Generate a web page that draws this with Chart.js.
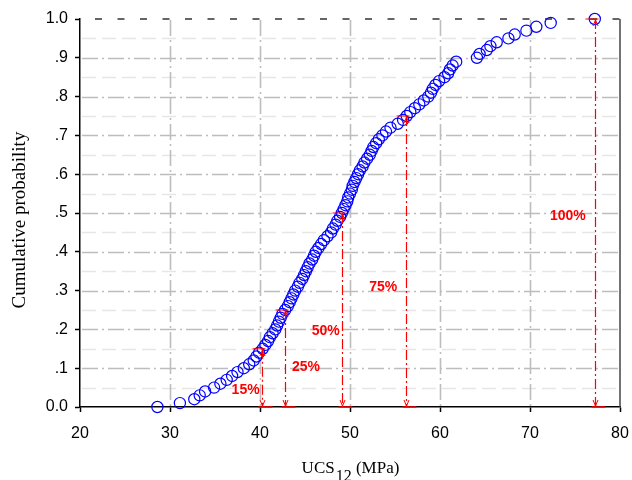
<!DOCTYPE html>
<html>
<head>
<meta charset="utf-8">
<title>UCS12 cumulative probability</title>
<script src="https://cdn.jsdelivr.net/npm/chart.js@4/dist/chart.umd.min.js"></script>
<style>
  html, body { margin: 0; padding: 0; background: #ffffff; }
  #wrap { width: 632px; height: 480px; }
</style>
</head>
<body>
<div id="wrap"><canvas id="cdf" width="632" height="480"></canvas></div>
<script>
// Cumulative probability of each ranked sample
const probability = [
  0.00, 0.01, 0.02, 0.03, 0.04, 0.05, 0.06, 0.07, 0.08, 0.09,
  0.10, 0.11, 0.12, 0.13, 0.14, 0.15, 0.16, 0.17, 0.18, 0.19,
  0.20, 0.21, 0.22, 0.23, 0.24, 0.25, 0.26, 0.27, 0.28, 0.29,
  0.30, 0.31, 0.32, 0.33, 0.34, 0.35, 0.36, 0.37, 0.38, 0.39,
  0.40, 0.41, 0.42, 0.43, 0.44, 0.45, 0.46, 0.47, 0.48, 0.49,
  0.50, 0.51, 0.52, 0.53, 0.54, 0.55, 0.56, 0.57, 0.58, 0.59,
  0.60, 0.61, 0.62, 0.63, 0.64, 0.65, 0.66, 0.67, 0.68, 0.69,
  0.70, 0.71, 0.72, 0.73, 0.74, 0.75, 0.76, 0.77, 0.78, 0.79,
  0.80, 0.81, 0.82, 0.83, 0.84, 0.85, 0.86, 0.87, 0.88, 0.89,
  0.90, 0.91, 0.92, 0.93, 0.94, 0.95, 0.96, 0.97, 0.98, 0.99,
  1.00
];

// UCS12 of each ranked sample (MPa)
const ucs12 = [
  28.6, 31.1, 32.7, 33.3, 33.9, 34.9, 35.6, 36.3, 36.9, 37.5,
  38.2, 38.8, 39.3, 39.6, 39.9, 40.3, 40.6, 40.9, 41.1, 41.4,
  41.7, 41.9, 42.1, 42.3, 42.5, 42.8, 43.1, 43.3, 43.5, 43.7,
  43.9, 44.2, 44.4, 44.7, 44.9, 45.1, 45.3, 45.5, 45.8, 46.0,
  46.2, 46.5, 46.8, 47.1, 47.5, 47.9, 48.1, 48.4, 48.6, 48.9,
  49.1, 49.3, 49.5, 49.7, 49.8, 50.0, 50.2, 50.3, 50.5, 50.7,
  50.9, 51.1, 51.4, 51.6, 51.9, 52.2, 52.4, 52.6, 52.9, 53.2,
  53.6, 54.0, 54.5, 55.3, 55.9, 56.3, 56.7, 57.2, 57.7, 58.2,
  58.7, 59.0, 59.2, 59.5, 59.9, 60.5, 60.9, 61.1, 61.4, 61.8,
  64.1, 64.4, 65.2, 65.6, 66.3, 67.6, 68.3, 69.6, 70.7, 72.3,
  77.2
];

// Marked percentiles
const percentileLabels = ['15%', '25%', '50%', '75%', '100%'];
const percentileProb   = [0.15, 0.25, 0.50, 0.75, 1.00];
const percentileUcs    = [40.2, 42.8, 49.1, 56.2, 77.2];
// where each percentile label sits, in axis units [x, y]
const percentileLabelAt = [[38.4, 0.044], [45.1, 0.103], [47.3, 0.196], [53.7, 0.31], [74.2, 0.492]];

// Axis ranges and ticks
const xMin = 20, xMax = 80, xStep = 10;
const yMin = 0, yMax = 1, yStep = 0.1;
const yMinorTicks = [0.05, 0.15, 0.25, 0.35, 0.45, 0.55, 0.65, 0.75, 0.85, 0.95];

const SANS = '"Liberation Sans", Arial, sans-serif';
const SERIF = '"Liberation Serif", "Times New Roman", serif';

function yTickText(v) {
  if (Math.abs(v) < 1e-9) return '0.0';
  if (Math.abs(v - 1) < 1e-9) return '1.0';
  return '.' + Math.round(v * 10);
}

// dash-dot grid, frame dashes on the top edge, solid right edge
const gridPlugin = {
  id: 'cdfGrid',
  beforeDatasetsDraw(chart) {
    const { ctx, chartArea: a, scales: { x, y } } = chart;
    ctx.save();
    ctx.lineCap = 'butt';
    // minor horizontal lines
    ctx.strokeStyle = '#e6e6e6';
    ctx.lineWidth = 1.5;
    ctx.setLineDash([14, 6]);
    yMinorTicks.forEach(v => {
      const py = Math.round(y.getPixelForValue(v)) + 0.5;
      ctx.beginPath(); ctx.moveTo(a.left + 2, py); ctx.lineTo(a.right - 1, py); ctx.stroke();
    });
    // major horizontal lines
    ctx.strokeStyle = '#bdbdbd';
    ctx.lineWidth = 1.6;
    ctx.setLineDash([16, 4, 2, 4]);
    for (let v = yMin + yStep; v < yMax - 1e-9; v += yStep) {
      const py = Math.round(y.getPixelForValue(v)) + 0.5;
      ctx.beginPath(); ctx.moveTo(a.left + 2, py); ctx.lineTo(a.right - 1, py); ctx.stroke();
    }
    // major vertical lines
    for (let v = xMin + xStep; v < xMax - 1e-9; v += xStep) {
      const px = Math.round(x.getPixelForValue(v)) + 0.5;
      ctx.beginPath(); ctx.moveTo(px, a.top + 1); ctx.lineTo(px, a.bottom - 1); ctx.stroke();
    }
    // top edge: short dark dashes
    ctx.strokeStyle = '#333333';
    ctx.lineWidth = 1.5;
    ctx.setLineDash([7, 15.5]);
    ctx.lineDashOffset = 7.5;
    ctx.beginPath(); ctx.moveTo(a.left, a.top); ctx.lineTo(a.right, a.top); ctx.stroke();
    // right edge
    ctx.setLineDash([]);
    ctx.lineDashOffset = 0;
    ctx.strokeStyle = '#444444';
    ctx.lineWidth = 1.5;
    ctx.beginPath(); ctx.moveTo(a.right, a.top); ctx.lineTo(a.right, a.bottom); ctx.stroke();
    ctx.restore();
  }
};

// red percentile drop lines with arrows and labels
const percentilePlugin = {
  id: 'percentiles',
  afterDatasetsDraw(chart) {
    const { ctx, scales: { x, y } } = chart;
    ctx.save();
    ctx.strokeStyle = 'rgb(255,0,0)';
    ctx.fillStyle = 'rgb(255,0,0)';
    const base = y.getPixelForValue(0);
    percentileProb.forEach((p, i) => {
      const px = Math.round(x.getPixelForValue(percentileUcs[i])) + 0.5;
      const top = y.getPixelForValue(p);
      // dash-dot drop line
      ctx.lineWidth = 1.2;
      ctx.setLineDash([10, 3, 2, 3]);
      ctx.beginPath(); ctx.moveTo(px, top); ctx.lineTo(px, base); ctx.stroke();
      ctx.setLineDash([]);
      ctx.lineWidth = 1;
      // top cap and upward arrowhead
      ctx.beginPath(); ctx.moveTo(px - 10, top); ctx.lineTo(px + 3, top); ctx.stroke();
      ctx.beginPath();
      ctx.moveTo(px - 2.5, top + 7); ctx.lineTo(px, top + 1); ctx.lineTo(px + 2.5, top + 7);
      ctx.stroke();
      // downward arrowhead and base tick on the axis
      ctx.beginPath();
      ctx.moveTo(px - 2.5, base - 7); ctx.lineTo(px, base - 1); ctx.lineTo(px + 2.5, base - 7);
      ctx.stroke();
      ctx.lineWidth = 1.5;
      ctx.beginPath(); ctx.moveTo(px - 4, base); ctx.lineTo(px + 10, base); ctx.stroke();
      // label
      const at = percentileLabelAt[i];
      ctx.font = 'bold 14px ' + SANS;
      ctx.textAlign = 'center';
      ctx.textBaseline = 'middle';
      ctx.fillText(percentileLabels[i], x.getPixelForValue(at[0]), y.getPixelForValue(at[1]));
    });
    ctx.restore();
  }
};

// axis titles (x title carries a subscript)
const titlePlugin = {
  id: 'axisTitles',
  afterDraw(chart) {
    const { ctx, chartArea: a } = chart;
    ctx.save();
    ctx.fillStyle = '#000000';
    ctx.textBaseline = 'alphabetic';
    // x title
    const main = '17px ' + SERIF, sub = '16px ' + SERIF;
    ctx.font = main; const w1 = ctx.measureText('UCS').width;
    ctx.font = sub;  const w2 = ctx.measureText('12').width;
    ctx.font = main; const w3 = ctx.measureText(' (MPa)').width;
    let sx = (a.left + a.right) / 2 - (w1 + w2 + w3) / 2;
    ctx.textAlign = 'left';
    ctx.font = main; ctx.fillText('UCS', sx, 473);
    ctx.font = sub;  ctx.fillText('12', sx + w1 + 1, 481);
    ctx.font = main; ctx.fillText(' (MPa)', sx + w1 + w2 + 1, 473);
    // y title
    ctx.translate(25, (a.top + a.bottom) / 2 + 7);
    ctx.rotate(-Math.PI / 2);
    ctx.textAlign = 'center';
    ctx.font = '19px ' + SERIF;
    ctx.fillText('Cumulative probability', 0, 0);
    ctx.restore();
  }
};

const points = ucs12.map((v, i) => ({ x: v, y: probability[i] }));

new Chart(document.getElementById('cdf'), {
  type: 'scatter',
  data: {
    datasets: [{
      data: points,
      pointStyle: 'circle',
      pointRadius: 5.6,
      pointHoverRadius: 5.6,
      borderColor: '#0000ff',
      backgroundColor: 'rgba(0,0,0,0)',
      borderWidth: 1.2,
      clip: false
    }]
  },
  options: {
    responsive: false,
    animation: false,
    events: [],
    layout: { padding: { top: 19, right: 12, left: 0, bottom: 0 } },
    plugins: { legend: { display: false }, tooltip: { enabled: false }, title: { display: false } },
    scales: {
      x: {
        type: 'linear',
        min: xMin, max: xMax,
        ticks: { stepSize: xStep, color: '#000', padding: 12, maxRotation: 0, font: { family: SANS, size: 16 } },
        grid: { drawOnChartArea: false, color: '#000', tickColor: '#000', tickLength: 5, tickWidth: 1.5 },
        border: { display: true, color: '#000', width: 1.5 },
        afterFit(scale) { scale.height = 73; scale.paddingLeft = 0; scale.paddingRight = 0; }
      },
      y: {
        type: 'linear',
        min: yMin, max: yMax,
        ticks: { stepSize: yStep, color: '#000', padding: 7, font: { family: SANS, size: 16 }, callback: yTickText },
        grid: { drawOnChartArea: false, color: '#000', tickColor: '#000', tickLength: 5, tickWidth: 1.5 },
        border: { display: true, color: '#000', width: 1.5 },
        afterFit(scale) { scale.width = 80; scale.paddingTop = 0; scale.paddingBottom = 0; }
      }
    }
  },
  plugins: [gridPlugin, percentilePlugin, titlePlugin]
});
</script>
</body>
</html>
